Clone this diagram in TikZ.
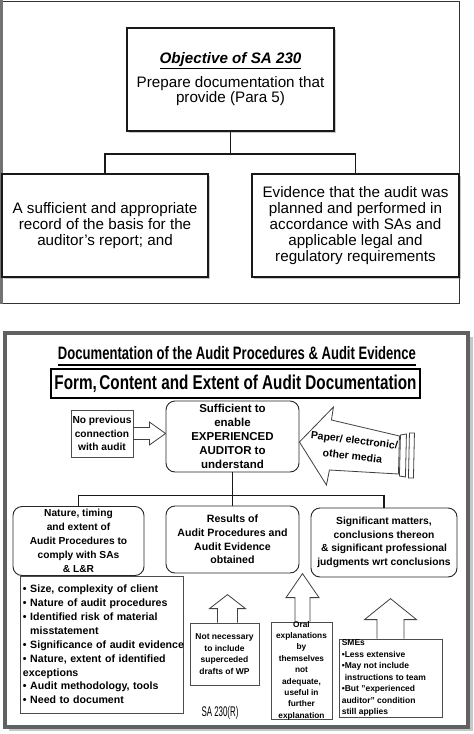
\documentclass[tikz,border=0pt]{standalone}
\usepackage{fontspec}
\setmainfont{Liberation Sans}
\usepackage{graphicx}
\usetikzlibrary{calc,shadows}
\tikzset{
  topbox/.style={draw=black!90, line width=1.3pt, fill=white,
    drop shadow={shadow xshift=2pt, shadow yshift=-2pt, opacity=0.35, fill=black!60},
    font=\fontsize{15.2}{15.8}\selectfont, align=center, inner sep=0pt},
  conn/.style={draw=black!90, line width=1.8pt},
  rbox/.style={draw=black!85, line width=0.9pt, rounded corners=9pt, fill=white, align=center, inner sep=0pt},
  sbox/.style={draw=black!70, line width=0.8pt, fill=white, align=center, inner sep=0pt},
  blockarrow/.style={draw=black!75, line width=0.8pt, line join=miter},
}
\begin{document}
\begin{tikzpicture}[x=1pt,y=-1pt]
\useasboundingbox (0,0) rectangle (474,734);
\fill[white] (0,0) rectangle (474,734);
% ---------- top panel ----------
\draw[black!80, line width=1pt] (0.5,1) -- (459,1) -- (459,303.5) -- (0.5,303.5);
\draw[black!55, line width=3pt] (1.5,0) -- (1.5,304);
\node[topbox, minimum width=207pt, minimum height=103pt] (obj) at (230.5,79.5)
  {\underline{\textbf{\textit{Objective of SA 230}}}\\[6pt]Prepare documentation that\\provide (Para 5)};
\node[topbox, minimum width=206pt, minimum height=103pt] (rec) at (105,225.5)
  {A sufficient and appropriate\\record of the basis for the\\auditor’s report; and};
\node[topbox, minimum width=207pt, minimum height=103pt] (evi) at (355.5,225.5)
  {Evidence that the audit was\\planned and performed in\\accordance with SAs and\\applicable legal and\\regulatory requirements};
\coordinate (j1) at ($(obj.south)+(0,22)$);
\draw[conn] (obj.south) -- (j1) -| (rec.north);
\draw[conn] (j1) -| (evi.north);
% ---------- bottom panel ----------
\fill[black!22] (9,337) rectangle (473,731);
\draw[black!62, line width=4pt, fill=white] (5,333) rectangle (468,727);
\node[inner sep=0pt, font=\bfseries\fontsize{18}{18}\selectfont] (ttl) at (237,353)
  {\resizebox{358pt}{\height}{Documentation of the Audit Procedures \& Audit Evidence}};
\draw[line width=1.2pt] ([yshift=-5.5pt]ttl.base west) -- ([yshift=-5.5pt]ttl.base east);
\node[draw, line width=1.3pt, minimum width=369pt, minimum height=29pt, inner sep=0pt] (form) at (235.5,383.5)
  {\resizebox{362pt}{\height}{\fontsize{20}{20}\selectfont\bfseries Form,\,Content and Extent of Audit Documentation}};
\node[rbox, minimum width=133pt, minimum height=71pt, font=\bfseries\fontsize{11.5}{14}\selectfont] (cbox) at (232.5,436.5)
  {Sufficient to\\enable\\EXPERIENCED\\AUDITOR to\\understand};
\node[sbox, minimum width=62pt, minimum height=47pt, font=\bfseries\fontsize{10.2}{13.5}\selectfont] (nprev) at (102,433.5)
  {No previous\\connection\\with audit};
\draw[blockarrow] ($(nprev.east)+(0,-6)$) -- ($(nprev.east)+(16,-6)$) -- ($(nprev.east)+(16,-11.5)$)
  -- (cbox.west |- nprev.east) -- ($(nprev.east)+(16,11.5)$) -- ($(nprev.east)+(16,6)$) -- ($(nprev.east)+(0,6)$);
% media arrow
\coordinate (mtip) at ($(cbox.east)+(0,5.5)$);
\draw[blockarrow, fill=white] (mtip) -- ($(mtip)+(34,-35)$) -- ($(mtip)+(32,-22)$) -- ($(mtip)+(100,-6)$)
  -- ($(mtip)+(99,32)$) -- ($(mtip)+(30,28)$) -- ($(mtip)+(27,43)$) -- cycle;
\draw[blockarrow] ($(mtip)+(101,-7)$) -- ($(mtip)+(107,-8)$) -- ($(mtip)+(106,35)$) -- ($(mtip)+(100,34)$) -- cycle;
\draw[blockarrow] ($(mtip)+(110,-9)$) -- ($(mtip)+(115,-9)$) -- ($(mtip)+(114,36)$) -- ($(mtip)+(109,36)$) -- cycle;
\node[rotate=-7, align=center, inner sep=0pt, font=\bfseries\fontsize{10.5}{16}\selectfont] (media) at ($(mtip)+(54,6)$)
  {Paper/ electronic/\\other media};
% row of three
\node[rbox, minimum width=131pt, minimum height=69pt, font=\bfseries\fontsize{10.2}{14}\selectfont] (b1) at (78.5,541)
  {Nature, timing\\and extent of\\Audit Procedures to\\comply with SAs\\\& L\&R};
\node[rbox, minimum width=133pt, minimum height=67pt, font=\bfseries\fontsize{10.6}{13.8}\selectfont] (b2) at (232.5,539.5)
  {Results of\\Audit Procedures and\\Audit Evidence\\obtained};
\node[rbox, minimum width=146pt, minimum height=69pt, font=\bfseries\fontsize{10.3}{13.5}\selectfont] (b3) at (384,542.5)
  {Significant matters,\\conclusions thereon\\\& significant professional\\judgments wrt conclusions};
\coordinate (j2) at ($(cbox.south)+(0,23)$);
\draw[conn] (cbox.south) -- (j2);
\draw[conn] (j2) -| (b1.north);
\draw[conn] (j2) -| (b3.north);
\draw[conn] (j2) -- (b2.north);
% list
\node[sbox, minimum width=163pt, minimum height=137pt, text width=157pt, align=left,
  font=\bfseries\fontsize{10.6}{13.9}\selectfont] (lst) at (101.5,644.5)
  {• Size, complexity of client\\
   • Nature of audit procedures\\
   • Identified risk of material\\
   \hphantom{•}\ misstatement\\
   \mbox{• Significance of audit evidence}\\
   • Nature, extent of identified\\
   exceptions\\
   • Audit methodology, tools\\
   • Need to document};
% not necessary
\node[sbox, minimum width=69pt, minimum height=62pt, font=\bfseries\fontsize{8.5}{11.5}\selectfont] (np) at (224.5,654)
  {Not necessary\\to include\\superceded\\drafts of WP};
\draw[blockarrow] ($(np.north)+(-7,0)$) -- ++(0,-14) -- ++(-8,0) -- ++(18,-14) -- ++(18,14) -- ++(-8,0) -- ++(0,14);
% oral
\node[sbox, minimum width=61pt, minimum height=97pt] (oral) at (301.5,670.5) {};
\node[align=center, inner sep=0pt, font=\bfseries\fontsize{8.3}{11.4}\selectfont] (oraltxt) at (oral.center)
  {Oral\\explanations\\by\\themselves\\not\\adequate,\\useful in\\further\\explanation};
\draw[blockarrow] ($(oral.north)+(-6.5,0)$) -- ++(0,-24) -- ++(-9,0) -- ++(16.5,-24) -- ++(16.5,24) -- ++(-9,0) -- ++(0,24);
% SMEs
\node[sbox, minimum width=103pt, minimum height=78pt] (sme) at (390.5,678) {};
\node[align=left, inner sep=0pt, anchor=west, font=\bfseries\fontsize{8.5}{11.5}\selectfont] (smetxt) at ($(sme.west)+(3,0)$)
  {SMEs\\•Less extensive\\•May not include\\\hphantom{•}instructions to team\\•But "experienced\\auditor" condition\\still applies};
\draw[blockarrow] ($(sme.north)+(-13.5,0)$) -- ++(0,-19) -- ++(-12.5,0) -- ++(26,-21) -- ++(26,21) -- ++(-12.5,0) -- ++(0,19);
% SA 230(R)
\node[inner sep=0pt, font=\fontsize{14}{14}\selectfont] (sa) at (220,713) {\resizebox{37pt}{\height}{SA 230(R)}};
\end{tikzpicture}
\end{document}
